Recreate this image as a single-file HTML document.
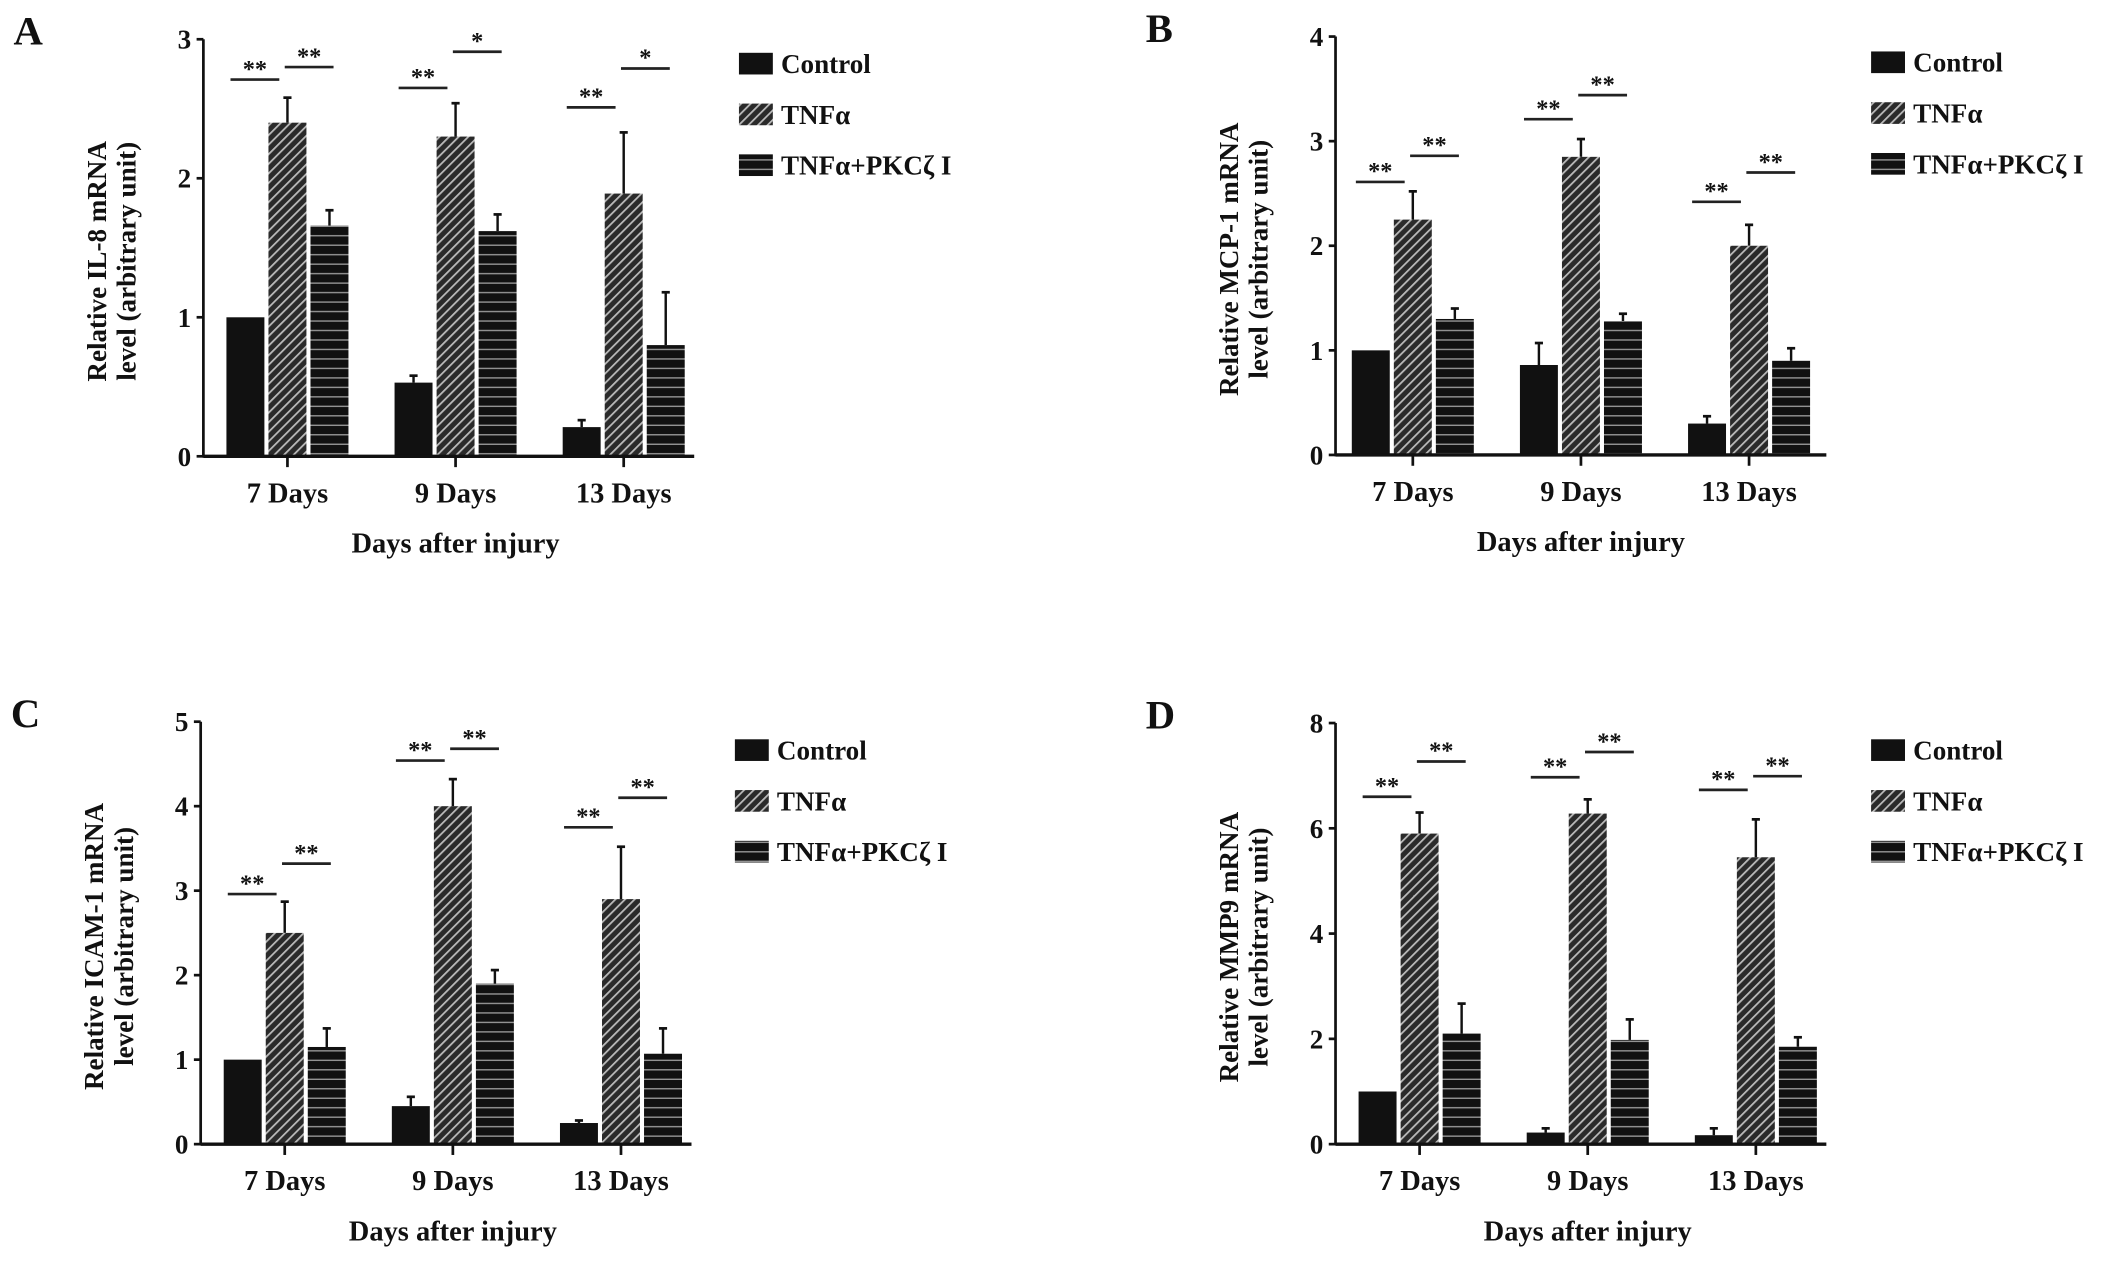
<!DOCTYPE html>
<html><head><meta charset="utf-8"><style>
html,body{margin:0;padding:0;background:#fff;}
svg{display:block;}
text{font-family:"Liberation Serif",serif;font-weight:bold;fill:#111;}
</style></head><body>
<svg id="fig" width="2126" height="1266" viewBox="0 0 1568 935" preserveAspectRatio="none" xmlns="http://www.w3.org/2000/svg">
<defs>
<pattern id="diag" patternUnits="userSpaceOnUse" width="5" height="5" patternTransform="rotate(45)">
<rect width="5" height="5" fill="#2a2a2a"/><rect x="0" width="1.3" height="5" fill="#bbb"/></pattern>
<pattern id="horiz" patternUnits="userSpaceOnUse" width="6" height="7">
<rect width="6" height="7" fill="#111"/><rect y="5.6" width="6" height="1" fill="#999"/></pattern>
</defs>
</svg>
<script>
const categories=["7 Days","9 Days","13 Days"];
const seriesNames=["Control","TNFα","TNFα+PKCζ I"];
const aVals=[[1.0,0.53,0.21],[2.4,2.3,1.89],[1.66,1.62,0.8]];
const aErr=[[1.0,0.58,0.26],[2.58,2.54,2.33],[1.77,1.74,1.18]];
const aSig=[[2.71,2.8],[2.65,2.91],[2.51,2.79]];
const aSigLbl=[["**","**"],["**","*"],["**","*"]];
const bVals=[[1.0,0.86,0.3],[2.25,2.85,2.0],[1.3,1.28,0.9]];
const bErr=[[1.0,1.07,0.37],[2.52,3.02,2.2],[1.4,1.35,1.02]];
const bSig=[[2.61,2.86],[3.21,3.44],[2.42,2.7]];
const cVals=[[1.0,0.45,0.25],[2.5,4.0,2.9],[1.15,1.9,1.07]];
const cErr=[[1.0,0.56,0.28],[2.87,4.32,3.52],[1.37,2.06,1.37]];
const cSig=[[2.96,3.32],[4.54,4.68],[3.75,4.1]];
const dVals=[[1.0,0.22,0.17],[5.9,6.28,5.45],[2.1,1.98,1.85]];
const dErr=[[1.0,0.3,0.3],[6.3,6.55,6.17],[2.67,2.37,2.03]];
const dSig=[[6.6,7.27],[6.97,7.45],[6.73,6.99]];
const allStars=[["**","**"],["**","**"],["**","**"]];
const aTicks=[0,1,2,3],bTicks=[0,1,2,3,4],cTicks=[0,1,2,3,4,5],dTicks=[0,2,4,6,8];

const svg=document.getElementById('fig');
const NS='http://www.w3.org/2000/svg';
function mk(t,a,p){const e=document.createElementNS(NS,t);for(const k in a)e.setAttribute(k,a[k]);(p||svg).appendChild(e);return e;}
const fills=["#111","url(#diag)","url(#horiz)"];

function panel(o){
  const g=mk('g',{});
  
  
  const ax=o.ax,y0=o.y0,yt=o.yt,max=o.ticks[o.ticks.length-1];
  const off=o.off||17;
  const Y=v=>y0-(y0-yt)*v/max;
  const X=(gi,si)=>ax+off+gi*124+si*31;
  const L=mk('text',{x:o.ax-140,y:yt+4,'font-size':30},g);L.textContent=o.letter;
  
  for(let s=0;s<3;s++)for(let c=0;c<3;c++){
    const x=X(c,s),v=o.vals[s][c],e=o.err[s][c];
    if(e>v){const el=mk('line',{x1:x+14,x2:x+14,y1:Y(v),y2:Y(e),stroke:'#111','stroke-width':1.8},g);
      
      mk('line',{x1:x+11,x2:x+17,y1:Y(e),y2:Y(e),stroke:'#111','stroke-width':2},g);}
    const r=mk('rect',{x:x,y:Y(v),width:28,height:y0-Y(v),fill:fills[s]},g);
    
  }
  const ya=mk('line',{x1:ax,x2:ax,y1:yt,y2:y0+1,stroke:'#111','stroke-width':2},g);
  
  const xa=mk('line',{x1:ax,x2:ax+362,y1:y0,y2:y0,stroke:'#111','stroke-width':2.5},g);
  
  o.ticks.forEach(t=>{mk('line',{x1:ax-5,x2:ax,y1:Y(t),y2:Y(t),stroke:'#111','stroke-width':2},g);
    const tl=mk('text',{x:ax-9,y:Y(t)+7,'font-size':20,'text-anchor':'end'},g);tl.textContent=t;
    });
  categories.forEach((c,i)=>{const cx=X(i,1)+14;
    mk('line',{x1:cx,x2:cx,y1:y0,y2:y0+8,stroke:'#111','stroke-width':2},g);
    const tl=mk('text',{x:cx,y:y0+34,'font-size':21,'text-anchor':'middle'},g);tl.textContent=c;
    });
  const xt=mk('text',{x:X(1,1)+14,y:y0+71,'font-size':21,'text-anchor':'middle'},g);xt.textContent='Days  after injury';
  
  const my=(y0+yt)/2+10;
  const t1=mk('text',{x:0,y:0,'font-size':20,'text-anchor':'middle',transform:`translate(${ax-72},${my}) rotate(-90)`},g);t1.textContent=o.ytitle;
  
  const t2=mk('text',{x:0,y:0,'font-size':20,'text-anchor':'middle',transform:`translate(${ax-50},${my}) rotate(-90)`},g);t2.textContent='level  (arbitrary unit)';
  
  for(let c=0;c<3;c++){
    const segs=[[X(c,0)+3,X(c,1)+8],[X(c,1)+12,X(c,2)+17]];
    segs.forEach((sg,k)=>{const y=Y(o.sig[c][k]);
      const l=mk('line',{x1:sg[0],x2:sg[1],y1:y,y2:y,stroke:'#222','stroke-width':2},g);
      
      const st=mk('text',{x:(sg[0]+sg[1])/2,y:y-2,'font-size':18,'text-anchor':'middle'},g);st.textContent=o.sigLbl[c][k];
      });
  }
  seriesNames.forEach((n,i)=>{const ly=o.ly+i*37.5;
    const sq=mk('rect',{x:o.lx,y:ly-8,width:25,height:16,fill:fills[i]},g);
    
    const lt=mk('text',{x:o.lx+31,y:ly+7,'font-size':20},g);lt.textContent=n;
    });
}
panel({letter:'A',ax:150,y0:337,yt:29,ticks:aTicks,vals:aVals,err:aErr,sig:aSig,sigLbl:aSigLbl,ytitle:'Relative IL-8 mRNA',lx:545,ly:47});
panel({letter:'B',ax:985,off:12,y0:336,yt:27,ticks:bTicks,vals:bVals,err:bErr,sig:bSig,sigLbl:allStars,ytitle:'Relative MCP-1 mRNA',lx:1380,ly:46});
panel({letter:'C',ax:148,y0:845,yt:533,ticks:cTicks,vals:cVals,err:cErr,sig:cSig,sigLbl:allStars,ytitle:'Relative ICAM-1 mRNA',lx:542,ly:554});
panel({letter:'D',ax:985,y0:845,yt:534,ticks:dTicks,vals:dVals,err:dErr,sig:dSig,sigLbl:allStars,ytitle:'Relative MMP9 mRNA',lx:1380,ly:554});
</script>
</body></html>
